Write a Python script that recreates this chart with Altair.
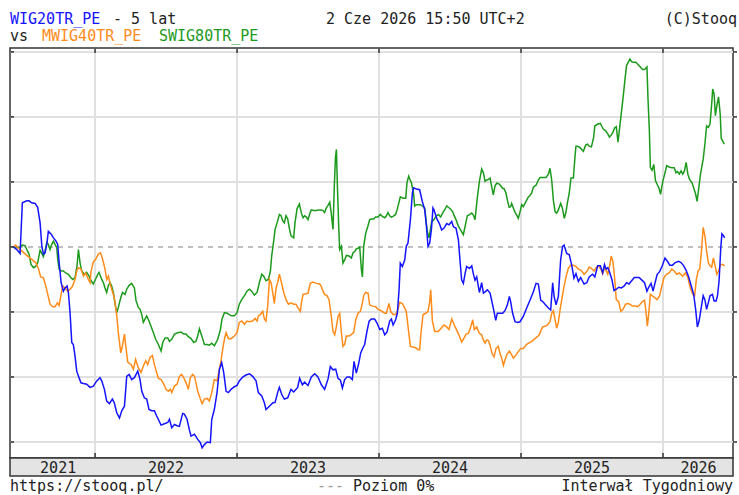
import altair as alt
import pandas as pd

# ---- data (x = fractional year, y = % change from start) ----
wig20 = [(2021.425,0.0),(2021.449,-0.4),(2021.472,-1.0),(2021.488,6.8),(2021.519,7.1),(2021.535,7.1),(2021.554,6.8),(2021.578,6.7),(2021.596,6.1),(2021.613,3.7),(2021.625,0.2),(2021.636,-1.1),(2021.648,-0.9),(2021.660,0.4),(2021.671,2.4),(2021.690,2.0),(2021.707,1.4),(2021.725,0.9),(2021.737,0.4),(2021.747,-2.4),(2021.761,-5.5),(2021.777,-6.8),(2021.789,-6.3),(2021.803,-6.0),(2021.812,-7.0),(2021.824,-10.1),(2021.836,-14.7),(2021.847,-15.0),(2021.859,-16.8),(2021.871,-19.1),(2021.887,-20.1),(2021.901,-20.9),(2021.918,-21.0),(2021.941,-21.1),(2021.965,-21.6),(2021.988,-21.4),(2022.012,-20.6),(2022.035,-20.1),(2022.047,-20.6),(2022.066,-21.9),(2022.082,-23.7),(2022.101,-24.1),(2022.122,-23.4),(2022.136,-24.0),(2022.153,-25.5),(2022.172,-26.3),(2022.188,-25.2),(2022.207,-24.5),(2022.223,-19.9),(2022.240,-19.6),(2022.258,-20.4),(2022.277,-20.1),(2022.301,-19.1),(2022.317,-20.4),(2022.329,-22.2),(2022.347,-23.2),(2022.364,-23.4),(2022.380,-25.0),(2022.399,-25.2),(2022.418,-25.2),(2022.434,-26.0),
 (2022.465,-27.4),(2022.488,-27.2),(2022.512,-27.0),(2022.524,-26.5),(2022.540,-27.8),(2022.559,-27.3),(2022.578,-27.5),(2022.594,-27.6),(2022.617,-25.6),(2022.629,-25.7),(2022.648,-26.5),(2022.664,-28.1),(2022.676,-29.1),(2022.700,-28.8),(2022.723,-29.6),(2022.742,-30.1),(2022.754,-30.9),(2022.770,-30.4),(2022.789,-30.0),(2022.812,-30.1),(2022.822,-26.5),(2022.840,-25.0),(2022.859,-22.4),(2022.876,-18.8),(2022.892,-17.8),(2022.906,-19.3),(2022.923,-22.2),(2022.939,-22.4),(2022.958,-21.9),(2022.981,-21.5),(2023.000,-21.3),(2023.016,-20.6),(2023.040,-20.0),(2023.063,-19.7),(2023.087,-19.5),(2023.110,-19.9),(2023.134,-20.6),(2023.150,-22.4),(2023.174,-22.9),(2023.193,-24.0),(2023.204,-25.0),(2023.228,-24.5),(2023.251,-24.0),(2023.268,-23.9),(2023.286,-22.4),(2023.298,-21.6),(2023.315,-22.7),(2023.333,-23.4),(2023.357,-23.2),(2023.380,-21.9),(2023.399,-22.3),(2023.427,-21.6),
 (2023.441,-20.2),(2023.460,-21.2),(2023.476,-20.8),(2023.500,-21.3),(2023.523,-20.0),(2023.547,-19.5),(2023.570,-20.0),(2023.594,-21.2),(2023.617,-21.9),(2023.641,-20.3),(2023.657,-18.4),(2023.676,-18.9),(2023.695,-18.8),(2023.711,-20.2),(2023.728,-20.5),(2023.742,-21.7),(2023.758,-20.4),(2023.775,-20.0),(2023.793,-20.0),(2023.812,-20.4),(2023.824,-17.6),(2023.840,-19.4),(2023.857,-17.9),(2023.871,-16.3),(2023.887,-15.5),(2023.899,-15.0),(2023.915,-13.0),(2023.930,-11.4),(2023.946,-11.1),(2023.969,-11.1),(2023.986,-11.7),(2024.005,-12.7),(2024.023,-12.5),(2024.040,-13.5),(2024.056,-13.1),(2024.075,-11.4),(2024.087,-11.1),(2024.099,-12.0),(2024.117,-11.2),(2024.129,-10.2),(2024.141,-6.6),(2024.150,-2.5),(2024.164,-3.0),(2024.181,-2.0),(2024.192,0.1),(2024.204,0.6),(2024.221,4.2),(2024.235,8.3),(2024.244,9.1),(2024.263,8.9),(2024.286,8.8),(2024.305,7.0),(2024.322,5.7),(2024.333,3.4),(2024.345,0.1),(2024.357,0.6),(2024.369,2.7),(2024.380,6.0),
 (2024.387,5.7),(2024.406,4.4),(2024.425,3.6),(2024.441,2.6),(2024.458,2.9),(2024.477,3.6),(2024.493,3.4),(2024.512,3.9),(2024.524,3.1),(2024.542,2.9),(2024.559,1.1),(2024.570,-2.0),(2024.582,-5.1),(2024.594,-5.6),(2024.606,-4.1),(2024.617,-3.0),(2024.636,-3.3),(2024.653,-2.9),(2024.664,-4.1),(2024.676,-5.1),(2024.688,-4.6),(2024.707,-7.0),(2024.723,-5.5),(2024.735,-7.1),(2024.747,-6.9),(2024.763,-6.6),(2024.782,-7.1),(2024.793,-8.2),(2024.805,-9.4),(2024.822,-11.3),(2024.833,-10.2),(2024.852,-10.2),(2024.871,-10.2),(2024.887,-9.8),(2024.904,-8.9),(2024.918,-7.6),(2024.927,-8.4),(2024.941,-10.2),(2024.958,-11.5),(2024.974,-11.6),(2024.993,-11.5),(2025.016,-10.7),(2025.040,-9.4),(2025.063,-8.2),(2025.087,-6.9),(2025.106,-5.6),(2025.122,-5.7),(2025.139,-8.2),(2025.153,-8.4),(2025.169,-8.8),(2025.193,-9.4),(2025.209,-9.7),(2025.223,-5.5),(2025.233,-7.6),(2025.247,-8.9),(2025.263,-7.6),(2025.279,-2.0),(2025.293,0.1),(2025.303,0.3),(2025.322,-1.0),(2025.340,-1.2),(2025.357,-2.8),(2025.373,-4.8),(2025.387,-4.1),(2025.404,-5.3),
 (2025.420,-4.7),(2025.444,-5.7),(2025.463,-5.5),(2025.480,-4.6),(2025.504,-4.2),(2025.520,-4.6),(2025.540,-2.9),(2025.559,-2.9),(2025.575,-4.0),(2025.588,-2.7),(2025.599,-3.4),(2025.611,-3.2),(2025.623,-3.8),(2025.640,-5.0),(2025.655,-6.7),(2025.671,-6.5),(2025.688,-6.2),(2025.707,-6.3),(2025.727,-6.0),(2025.743,-5.5),(2025.760,-5.7),(2025.779,-5.2),(2025.798,-4.7),(2025.815,-4.7),(2025.832,-4.7),(2025.851,-5.1),(2025.870,-5.5),(2025.887,-6.8),(2025.899,-6.2),(2025.916,-5.6),(2025.930,-6.8),(2025.942,-5.7),(2025.959,-4.2),(2025.976,-3.8),(2025.995,-2.9),(2026.014,-1.7),(2026.031,-2.2),(2026.048,-2.8),(2026.067,-2.8),(2026.086,-2.4),(2026.110,-2.2),(2026.127,-2.4),(2026.146,-2.9),(2026.163,-3.6),(2026.182,-4.7),(2026.199,-6.0),(2026.216,-7.3),(2026.230,-9.6),(2026.242,-12.3),(2026.254,-11.4),(2026.271,-9.1),(2026.283,-7.5),(2026.295,-8.1),(2026.307,-9.6),(2026.319,-8.6),(2026.331,-7.5),(2026.348,-7.3),(2026.360,-8.3),(2026.374,-8.3),(2026.384,-7.5),(2026.395,-5.2),(2026.407,-0.1),(2026.415,2.0),(2026.427,1.7),(2026.434,1.4)]

mwig40 = [(2021.425,0.0),(2021.441,0.3),(2021.455,-0.1),(2021.484,-0.6),(2021.519,-1.3),(2021.554,-1.9),(2021.582,-2.4),(2021.601,-3.3),(2021.617,-4.6),(2021.636,-4.7),(2021.653,-6.0),(2021.667,-7.3),(2021.683,-8.8),(2021.702,-9.2),(2021.718,-9.2),(2021.735,-8.6),(2021.747,-9.0),(2021.761,-7.3),(2021.772,-6.0),(2021.789,-6.3),(2021.807,-6.8),(2021.824,-6.5),(2021.840,-6.1),(2021.859,-5.0),(2021.871,-3.7),(2021.883,-3.2),(2021.901,-3.4),(2021.918,-4.5),(2021.934,-4.0),(2021.953,-5.0),(2021.965,-5.5),(2021.972,-3.7),(2021.988,-2.3),(2022.007,-1.8),(2022.023,-1.1),(2022.038,-0.9),(2022.047,-1.4),(2022.059,-2.4),(2022.070,-3.4),(2022.082,-5.0),(2022.094,-4.5),(2022.106,-5.7),(2022.117,-6.5),(2022.136,-7.8),(2022.153,-10.6),(2022.164,-13.2),(2022.181,-16.3),(2022.193,-15.2),(2022.207,-13.4),(2022.218,-15.5),(2022.230,-17.7),(2022.254,-18.1),(2022.270,-18.8),(2022.286,-17.3),(2022.305,-18.6),(2022.324,-19.3),(2022.340,-18.3),(2022.357,-17.5),(2022.371,-18.1),(2022.387,-17.0),(2022.404,-16.7),(2022.418,-18.1),(2022.434,-19.3),(2022.446,-20.2),
 (2022.465,-20.4),(2022.484,-21.1),(2022.500,-21.9),(2022.516,-22.2),(2022.531,-21.9),(2022.540,-22.4),(2022.559,-21.4),(2022.578,-21.1),(2022.594,-19.9),(2022.610,-19.6),(2022.624,-20.1),(2022.641,-20.9),(2022.657,-21.9),(2022.671,-20.1),(2022.688,-19.6),(2022.700,-19.9),(2022.711,-20.9),(2022.723,-22.2),(2022.742,-23.4),(2022.754,-24.1),(2022.770,-23.4),(2022.789,-23.3),(2022.805,-23.7),(2022.822,-22.4),(2022.840,-20.4),(2022.859,-20.6),(2022.876,-18.8),(2022.887,-17.5),(2022.899,-15.7),(2022.911,-14.2),(2022.923,-13.2),(2022.939,-14.1),(2022.958,-14.1),(2022.981,-13.7),(2023.000,-13.2),(2023.016,-11.6),(2023.033,-11.4),(2023.052,-11.9),(2023.070,-11.4),(2023.087,-11.5),(2023.110,-11.4),(2023.127,-11.0),(2023.141,-11.4),(2023.150,-10.6),(2023.164,-10.4),(2023.181,-9.9),(2023.193,-11.1),(2023.204,-11.4),(2023.216,-9.1),(2023.228,-5.0),(2023.240,-5.5),(2023.251,-7.0),(2023.263,-8.7),(2023.275,-6.3),(2023.286,-5.5),(2023.298,-4.2),(2023.310,-5.2),(2023.329,-7.0),(2023.345,-8.1),(2023.362,-8.8),(2023.380,-8.6),(2023.399,-8.8),(2023.415,-8.8),(2023.427,-9.3),(2023.446,-9.9),
 (2023.453,-8.6),(2023.465,-7.3),(2023.484,-7.2),(2023.500,-7.1),(2023.516,-5.6),(2023.535,-5.4),(2023.559,-5.6),(2023.582,-5.7),(2023.594,-6.1),(2023.606,-6.8),(2023.617,-7.3),(2023.634,-7.5),(2023.648,-8.1),(2023.664,-10.7),(2023.676,-13.0),(2023.688,-13.5),(2023.700,-12.2),(2023.711,-10.7),(2023.723,-10.2),(2023.735,-13.2),(2023.746,-15.3),(2023.758,-15.0),(2023.770,-13.7),(2023.789,-13.7),(2023.805,-13.5),(2023.822,-13.1),(2023.836,-11.2),(2023.852,-10.2),(2023.869,-9.9),(2023.883,-8.6),(2023.892,-7.5),(2023.906,-7.0),(2023.923,-7.1),(2023.934,-8.9),(2023.953,-9.1),(2023.977,-9.2),(2023.993,-9.6),(2024.005,-9.7),(2024.023,-9.9),(2024.040,-10.2),(2024.052,-10.2),(2024.070,-8.7),(2024.082,-9.9),(2024.099,-10.4),(2024.117,-10.4),(2024.134,-9.6),(2024.145,-8.5),(2024.164,-8.7),(2024.181,-9.4),(2024.192,-9.9),(2024.204,-12.2),(2024.221,-15.3),(2024.239,-15.4),(2024.258,-15.5),(2024.275,-15.8),(2024.286,-15.8),(2024.298,-12.7),(2024.310,-10.4),(2024.329,-10.2),(2024.345,-9.9),(2024.357,-8.4),(2024.364,-6.6),(2024.376,-11.4),(2024.392,-13.0),
 (2024.418,-13.0),(2024.441,-12.4),(2024.458,-12.0),(2024.477,-12.3),(2024.493,-12.7),(2024.512,-11.1),(2024.528,-11.9),(2024.547,-12.8),(2024.566,-13.7),(2024.582,-14.6),(2024.594,-14.2),(2024.613,-13.4),(2024.629,-13.3),(2024.646,-12.3),(2024.660,-11.2),(2024.671,-12.7),(2024.688,-12.3),(2024.707,-13.3),(2024.723,-13.5),(2024.735,-14.3),(2024.747,-14.8),(2024.758,-14.3),(2024.770,-14.4),(2024.782,-15.1),(2024.796,-16.4),(2024.810,-16.9),(2024.824,-15.6),(2024.840,-15.3),(2024.852,-16.4),(2024.864,-17.1),(2024.876,-18.2),(2024.887,-17.4),(2024.899,-16.6),(2024.918,-16.0),(2024.930,-16.4),(2024.946,-17.1),(2024.965,-16.6),(2024.981,-16.1),(2024.998,-15.6),(2025.016,-15.6),(2025.035,-15.1),(2025.052,-14.8),(2025.063,-14.7),(2025.082,-14.4),(2025.099,-14.1),(2025.115,-13.8),(2025.129,-13.5),(2025.141,-12.8),(2025.153,-12.3),(2025.169,-12.2),(2025.186,-12.0),(2025.204,-11.5),(2025.216,-10.2),(2025.228,-9.8),(2025.240,-11.2),(2025.251,-12.5),(2025.263,-11.6),(2025.275,-9.7),(2025.286,-8.2),(2025.303,-6.1),(2025.317,-4.6),(2025.333,-3.3),(2025.350,-2.8),(2025.369,-2.8),(2025.387,-3.0),(2025.404,-3.4),
 (2025.424,-3.6),(2025.444,-4.2),(2025.463,-3.8),(2025.480,-3.1),(2025.496,-3.3),(2025.515,-3.7),(2025.528,-3.2),(2025.544,-2.9),(2025.563,-3.4),(2025.575,-4.1),(2025.588,-3.2),(2025.599,-3.6),(2025.611,-4.2),(2025.626,-2.7),(2025.635,-1.4),(2025.647,-2.2),(2025.659,-4.7),(2025.671,-8.1),(2025.688,-8.4),(2025.703,-9.9),(2025.719,-9.6),(2025.736,-8.8),(2025.751,-8.7),(2025.767,-8.8),(2025.784,-9.1),(2025.803,-9.1),(2025.822,-9.2),(2025.839,-8.8),(2025.856,-8.4),(2025.870,-8.2),(2025.880,-9.9),(2025.890,-12.2),(2025.899,-10.4),(2025.911,-7.3),(2025.923,-7.5),(2025.942,-7.8),(2025.959,-8.1),(2025.976,-7.5),(2025.990,-6.2),(2026.007,-4.7),(2026.024,-4.2),(2026.043,-4.0),(2026.062,-3.4),(2026.079,-3.7),(2026.096,-4.2),(2026.115,-4.0),(2026.139,-4.5),(2026.158,-4.0),(2026.175,-4.7),(2026.192,-6.3),(2026.211,-7.3),(2026.223,-7.5),(2026.235,-5.0),(2026.247,-3.7),(2026.259,-3.4),(2026.271,-0.6),(2026.283,3.0),(2026.295,1.7),(2026.307,-0.6),(2026.319,-2.4),(2026.331,-2.9),(2026.343,-3.1),(2026.355,-1.7),(2026.367,-2.9),(2026.379,-4.2),(2026.391,-3.7),(2026.407,-2.7),(2026.422,-2.7),(2026.434,-2.9)]

swig80 = [(2021.425,0.0),(2021.449,-0.1),(2021.472,0.0),(2021.488,0.3),(2021.507,0.2),(2021.519,-0.4),(2021.535,-1.1),(2021.549,-2.7),(2021.566,-3.2),(2021.582,-3.0),(2021.596,-2.4),(2021.613,-0.5),(2021.625,-1.0),(2021.636,-1.5),(2021.648,-0.6),(2021.660,0.7),(2021.671,0.4),(2021.683,-0.4),(2021.695,0.4),(2021.707,0.9),(2021.718,0.4),(2021.730,-0.1),(2021.737,-1.9),(2021.747,-3.4),(2021.761,-3.7),(2021.777,-3.7),(2021.793,-4.0),(2021.812,-4.2),(2021.829,-4.7),(2021.843,-5.0),(2021.859,-4.7),(2021.873,-2.9),(2021.883,-0.4),(2021.894,-2.4),(2021.906,-3.7),(2021.925,-4.2),(2021.941,-3.9),(2021.958,-4.5),(2021.972,-5.2),(2021.988,-5.7),(2022.005,-4.9),(2022.019,-4.2),(2022.028,-3.9),(2022.047,-5.0),(2022.059,-5.5),(2022.070,-6.3),(2022.082,-7.0),(2022.094,-5.9),(2022.106,-5.5),(2022.117,-6.0),(2022.129,-7.0),(2022.141,-8.8),(2022.153,-10.1),(2022.164,-9.3),(2022.181,-7.8),(2022.193,-7.0),(2022.211,-7.3),(2022.223,-6.5),(2022.240,-5.9),(2022.258,-5.6),(2022.277,-6.3),(2022.289,-8.3),(2022.305,-9.3),(2022.317,-9.6),(2022.329,-10.4),(2022.340,-11.6),(2022.352,-11.1),(2022.364,-10.6),(2022.380,-11.4),(2022.394,-12.2),(2022.411,-13.2),(2022.427,-14.2),(2022.446,-15.0),
 (2022.465,-16.0),(2022.477,-14.7),(2022.493,-14.0),(2022.512,-14.0),(2022.524,-14.5),(2022.540,-14.2),(2022.559,-13.4),(2022.582,-13.2),(2022.606,-13.1),(2022.624,-13.4),(2022.641,-13.4),(2022.657,-13.8),(2022.676,-14.1),(2022.695,-14.7),(2022.711,-14.5),(2022.723,-13.7),(2022.735,-12.6),(2022.747,-13.4),(2022.758,-14.1),(2022.770,-15.0),(2022.789,-15.0),(2022.805,-15.1),(2022.822,-14.8),(2022.840,-15.2),(2022.852,-14.7),(2022.864,-14.2),(2022.883,-12.7),(2022.894,-11.1),(2022.911,-10.1),(2022.930,-10.2),(2022.946,-10.4),(2022.962,-10.6),(2022.981,-10.6),(2023.000,-10.1),(2023.016,-8.8),(2023.033,-8.1),(2023.052,-7.5),(2023.070,-6.8),(2023.087,-6.5),(2023.103,-6.8),(2023.122,-7.4),(2023.141,-7.0),(2023.157,-5.5),(2023.174,-4.2),(2023.188,-4.5),(2023.204,-5.2),(2023.221,-5.0),(2023.235,-3.7),(2023.244,-1.4),(2023.258,0.9),(2023.268,2.7),(2023.282,3.7),(2023.298,5.0),(2023.310,4.8),(2023.322,4.0),(2023.333,3.7),(2023.345,4.8),(2023.357,4.3),(2023.369,2.8),(2023.380,1.7),(2023.399,1.4),(2023.408,3.7),(2023.423,5.9),(2023.439,6.6),
 (2023.453,5.2),(2023.465,4.5),(2023.476,4.8),(2023.488,4.6),(2023.500,4.2),(2023.512,5.1),(2023.523,5.7),(2023.540,5.6),(2023.559,5.6),(2023.577,5.7),(2023.594,5.7),(2023.606,5.6),(2023.617,5.3),(2023.629,6.0),(2023.641,6.4),(2023.653,6.9),(2023.664,5.1),(2023.676,2.7),(2023.685,9.3),(2023.693,13.7),(2023.700,15.0),(2023.707,9.3),(2023.716,3.2),(2023.723,-0.4),(2023.735,0.1),(2023.746,-2.5),(2023.758,-2.0),(2023.770,-1.3),(2023.789,-1.4),(2023.805,-1.7),(2023.817,-0.9),(2023.829,-0.7),(2023.840,-0.3),(2023.852,-0.2),(2023.864,0.0),(2023.876,-3.5),(2023.883,-4.6),(2023.892,0.1),(2023.906,2.1),(2023.923,3.3),(2023.934,4.2),(2023.946,4.3),(2023.962,4.3),(2023.976,4.6),(2023.993,4.6),(2024.009,5.0),(2024.023,4.7),(2024.040,4.5),(2024.052,4.8),(2024.063,5.3),(2024.075,4.8),(2024.087,4.6),(2024.099,4.7),(2024.117,5.0),(2024.127,5.7),(2024.141,6.9),(2024.150,7.7),(2024.169,7.5),(2024.188,7.5),(2024.197,9.9),(2024.209,10.9),(2024.216,10.5),(2024.228,9.9),(2024.244,8.1),(2024.251,6.3),(2024.263,6.5),(2024.275,6.5),(2024.291,6.5),(2024.305,6.3),(2024.322,6.0),(2024.333,3.7),(2024.340,2.4),(2024.352,1.4),
 (2024.371,3.9),(2024.387,4.2),(2024.401,4.7),(2024.418,5.0),(2024.434,4.6),(2024.448,5.2),(2024.465,5.8),(2024.477,6.3),(2024.488,6.1),(2024.505,5.8),(2024.519,5.4),(2024.528,4.9),(2024.542,4.2),(2024.559,3.2),(2024.575,2.6),(2024.594,1.9),(2024.613,3.9),(2024.622,4.8),(2024.641,5.0),(2024.653,5.2),(2024.664,4.9),(2024.676,4.2),(2024.693,7.7),(2024.707,10.1),(2024.723,12.0),(2024.735,11.4),(2024.747,10.1),(2024.758,10.3),(2024.770,10.4),(2024.782,10.6),(2024.793,9.3),(2024.805,8.0),(2024.817,9.4),(2024.829,9.8),(2024.845,9.7),(2024.857,9.4),(2024.871,9.0),(2024.880,9.0),(2024.894,8.3),(2024.904,7.2),(2024.916,6.1),(2024.927,6.2),(2024.934,6.7),(2024.946,6.0),(2024.958,5.3),(2024.970,4.9),(2024.981,4.4),(2024.993,5.4),(2025.005,6.5),(2025.016,6.2),(2025.028,6.7),(2025.040,7.2),(2025.052,7.7),(2025.063,7.9),(2025.075,8.3),(2025.087,9.2),(2025.106,9.5),(2025.122,10.3),(2025.134,10.7),(2025.157,10.7),(2025.176,10.7),(2025.193,11.2),(2025.204,12.1),(2025.216,10.3),(2025.228,7.2),(2025.240,5.4),(2025.251,5.2),(2025.263,5.7),(2025.279,6.7),(2025.291,6.0),(2025.305,4.4),(2025.317,5.4),(2025.326,6.7),(2025.340,8.3),(2025.352,10.6),(2025.369,10.6),(2025.380,13.9),(2025.387,15.5),(2025.397,15.5),(2025.415,15.3),
 (2025.439,14.7),(2025.456,15.7),(2025.468,15.8),(2025.480,15.5),(2025.496,15.4),(2025.511,16.8),(2025.520,18.6),(2025.540,18.9),(2025.559,19.0),(2025.568,18.6),(2025.580,18.1),(2025.595,17.9),(2025.611,17.4),(2025.623,16.9),(2025.635,17.2),(2025.647,17.6),(2025.659,18.3),(2025.671,18.5),(2025.683,16.1),(2025.695,18.4),(2025.707,20.7),(2025.719,23.0),(2025.731,25.5),(2025.743,27.9),(2025.755,28.4),(2025.767,28.9),(2025.779,28.5),(2025.791,28.4),(2025.808,28.4),(2025.822,28.1),(2025.839,27.7),(2025.856,27.3),(2025.870,27.3),(2025.887,27.7),(2025.894,23.0),(2025.904,17.9),(2025.911,12.2),(2025.923,11.8),(2025.935,12.7),(2025.947,10.2),(2025.959,9.6),(2025.971,9.1),(2025.983,8.1),(2025.990,9.1),(2026.000,10.2),(2026.014,11.4),(2026.026,12.5),(2026.043,12.3),(2026.062,12.2),(2026.079,12.2),(2026.091,11.4),(2026.103,11.6),(2026.115,11.2),(2026.127,11.7),(2026.139,11.2),(2026.151,11.7),(2026.163,13.0),(2026.175,11.2),(2026.187,10.4),(2026.204,9.9),(2026.216,9.1),(2026.230,8.1),(2026.240,7.0),(2026.252,9.1),(2026.264,11.2),(2026.283,13.5),(2026.295,15.8),(2026.307,18.6),(2026.319,18.4),(2026.331,18.9),(2026.343,22.0),(2026.350,24.3),(2026.360,23.5),(2026.369,20.2),(2026.379,21.7),(2026.391,23.1),(2026.403,20.4),(2026.410,16.7),(2026.422,16.2),(2026.432,15.8)]

grid_levels = [-30, -20, -10, 10, 20, 30]
tick_levels = [-30, -20, -10, 0, 10, 20, 30]
year_starts = [2022, 2023, 2024, 2025, 2026]
year_labels = ["2021", "2022", "2023", "2024", "2025", "2026"]
year_label_pos = [2021.74, 2022.5, 2023.5, 2024.5, 2025.5, 2026.25]

X_DOMAIN = [2021.401, 2026.493]
Y_DOMAIN = [-32.46, 30.6]

BLUE = "#1414ff"
ORANGE = "#ff8c1a"
GREEN = "#1c9a1c"
FONT = "DejaVu Sans Mono"
FS = 15

xs = alt.Scale(domain=X_DOMAIN, nice=False, zero=False)
ys = alt.Scale(domain=Y_DOMAIN, nice=False, zero=False)

def series_df(pairs):
    return pd.DataFrame(pairs, columns=["t", "v"])

grid_df = pd.DataFrame({"v": grid_levels})
tick_df = pd.DataFrame({"v": tick_levels})
year_df = pd.DataFrame({"t": year_starts})
lab_df = pd.DataFrame({"t": year_label_pos, "label": year_labels})
one = pd.DataFrame({"a": [0]})

hgrid = alt.Chart(grid_df).mark_rule(color="#e0e0e0", strokeWidth=2).encode(
    y=alt.Y("v:Q", scale=ys, axis=None))
vgrid = alt.Chart(year_df).mark_rule(color="#e0e0e0", strokeWidth=2).encode(
    x=alt.X("t:Q", scale=xs, axis=None))
zero = alt.Chart(pd.DataFrame({"v": [0]})).mark_rule(
    color="#aaaaaa", strokeWidth=1.5, strokeDash=[5, 5]).encode(
    y=alt.Y("v:Q", scale=ys, axis=None))

def line(pairs, color):
    return alt.Chart(series_df(pairs)).mark_line(color=color, strokeWidth=1.5).encode(
        x=alt.X("t:Q", scale=xs, axis=None),
        y=alt.Y("v:Q", scale=ys, axis=None))

TICK = "#333333"
left_ticks = alt.Chart(tick_df).mark_rule(color=TICK, strokeWidth=1.5).encode(
    y=alt.Y("v:Q", scale=ys, axis=None), x=alt.value(0), x2=alt.value(4))
right_ticks = alt.Chart(tick_df).mark_rule(color=TICK, strokeWidth=1.5).encode(
    y=alt.Y("v:Q", scale=ys, axis=None), x=alt.value(723), x2=alt.value(727))
top_ticks = alt.Chart(year_df).mark_rule(color=TICK, strokeWidth=1.5).encode(
    x=alt.X("t:Q", scale=xs, axis=None), y=alt.value(0), y2=alt.value(5))
bot_ticks = alt.Chart(year_df).mark_rule(color=TICK, strokeWidth=1.5).encode(
    x=alt.X("t:Q", scale=xs, axis=None), y=alt.value(405), y2=alt.value(410))

band = alt.Chart(one).mark_rect(fill="#e4e4e4", stroke="#333333", strokeWidth=1.5).encode(
    x=alt.value(0), x2=alt.value(723), y=alt.value(410), y2=alt.value(428))
band_labels = alt.Chart(lab_df).mark_text(
    font=FONT, fontSize=FS, color="#222222", baseline="alphabetic", align="center").encode(
    x=alt.X("t:Q", scale=xs, axis=None), y=alt.value(425), text="label:N")

def label(text, x, y, color="#222222", align="left"):
    return alt.Chart(one).mark_text(
        text=text, font=FONT, fontSize=FS, color=color, align=align,
        baseline="alphabetic").encode(x=alt.value(x), y=alt.value(y))

texts = [
    label("WIG20TR_PE", 0, -24, BLUE),
    label("- 5 lat", 103, -24),
    label("2 Cze 2026 15:50 UTC+2", 316, -24),
    label("(C)Stooq", 727, -24, align="right"),
    label("vs", 0, -7.5),
    label("MWIG40TR_PE", 32, -7.5, ORANGE),
    label("SWIG80TR_PE", 149, -7.5, GREEN),
    label("https://stooq.pl/", 0, 443),
    label("---", 307, 443, "#999999"),
    label("Poziom 0%", 343, 443),
    label("Interwał Tygodniowy", 723, 443, align="right"),
]

chart = alt.layer(
    hgrid, vgrid, zero,
    line(swig80, GREEN), line(mwig40, ORANGE), line(wig20, BLUE),
    left_ticks, right_ticks, top_ticks, bot_ticks,
    band, band_labels, *texts
).properties(
    width=723, height=410,
    padding={"left": 10, "top": 48, "right": 6, "bottom": 37},
    autosize=alt.AutoSizeParams(type="none"),
    background="white",
).configure_view(stroke="#333333", strokeWidth=1.5)

chart.save("out.html", embed_options={"renderer": "svg", "actions": False})
